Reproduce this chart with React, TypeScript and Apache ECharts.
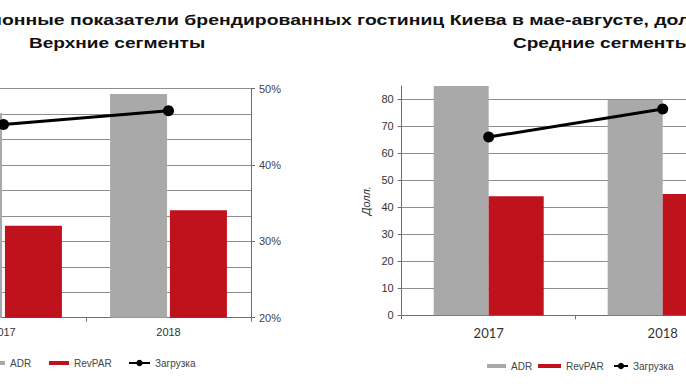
import React, { useEffect, useRef } from "react";
import * as echarts from "echarts";

const years = ["2017", "2018"];
const upperADR = [160.7, 175.8];
const upperRevPAR = [72.3, 84.4];
const upperOcc = [45.3, 47.1];
const midADR = [85.2, 79.8];
const midRevPAR = [44.1, 45.0];
const midOcc = [51.1, 56.0];

const titleText = "Операционные показатели брендированных гостиниц Киева в мае-августе, долл.";
const upperTitle = "Верхние сегменты";
const midTitle = "Средние сегменты";
const seriesNames = ["ADR", "RevPAR", "Загрузка"];

const GREY = "#A9A9A9";
const RED = "#BF121D";
const GRID = "#8E8E8E";
const AXIS = "#6E6E6E";
const OFF = 100; // chart canvas extends 100px beyond the visible left edge
const EXTRA_RIGHT = 120; // and beyond the visible right edge

export default function App() {
  const ref = useRef<HTMLDivElement>(null);
  useEffect(() => {
    if (!ref.current) return;
    const chart = echarts.init(ref.current, undefined, { renderer: "svg" });
    const legendText = { color: "#444", fontSize: 10, fontFamily: "Liberation Sans" };
    const mkLegend = (name: string, left: number, top: number, w: number, isLine: boolean) => ({
      data: [name], left: left + OFF, top, padding: 0,
      itemWidth: w, itemHeight: isLine ? 8 : 4,
      icon: isLine ? undefined : "rect",
      textStyle: legendText
    });
    chart.setOption({
      animation: false,
      backgroundColor: "#fff",
      textStyle: { fontFamily: "Liberation Sans" },
      graphic: [
        {
          type: "text", x: -82 + OFF, y: 20, scaleX: 1.293,
          style: { text: titleText, font: "bold 15px 'Liberation Sans'", fill: "#111", textAlign: "left", textVerticalAlign: "middle" }
        },
        {
          type: "text", x: 29 + OFF, y: 43, scaleX: 1.27,
          style: { text: upperTitle, font: "bold 15px 'Liberation Sans'", fill: "#111", textAlign: "left", textVerticalAlign: "middle" }
        },
        {
          type: "text", x: 513 + OFF, y: 43, scaleX: 1.27,
          style: { text: midTitle, font: "bold 15px 'Liberation Sans'", fill: "#111", textAlign: "left", textVerticalAlign: "middle" }
        }
      ],
      legend: [
        mkLegend(seriesNames[0], -18, 358, 23, false),
        mkLegend(seriesNames[1], 49, 358, 20, false),
        mkLegend(seriesNames[2], 128, 358, 21, true),
        mkLegend(seriesNames[0], 487, 361, 19, false),
        mkLegend(seriesNames[1], 538, 361, 23, false),
        mkLegend(seriesNames[2], 613, 361, 14, true)
      ],
      grid: [
        { left: -79 + OFF, top: 88.7, width: 330, height: 229 },
        { left: 401.7 + OFF, top: 86, width: 348, height: 229.3 }
      ],
      xAxis: [
        {
          type: "category", gridIndex: 0, data: years,
          axisLine: { lineStyle: { color: AXIS } },
          axisTick: { show: true, length: 4, lineStyle: { color: AXIS } },
          axisLabel: { color: "#333", fontSize: 11, margin: 9 }
        },
        {
          type: "category", gridIndex: 1, data: years,
          axisLine: { lineStyle: { color: AXIS } },
          axisTick: { show: true, length: 4, lineStyle: { color: AXIS } },
          axisLabel: { color: "#333", fontSize: 13, fontFamily: "Lato", margin: 11 }
        }
      ],
      yAxis: [
        {
          type: "value", gridIndex: 0, min: 0, max: 180, interval: 20, position: "left",
          axisLine: { show: true, lineStyle: { color: AXIS } },
          axisLabel: { show: false },
          splitLine: { show: true, lineStyle: { color: GRID, width: 1 } }
        },
        {
          type: "value", gridIndex: 0, min: 20, max: 50, interval: 10, position: "right",
          axisLine: { show: true, lineStyle: { color: AXIS } },
          axisTick: { show: true, length: 4, lineStyle: { color: AXIS } },
          axisLabel: { formatter: "{value}%", color: "#444", fontSize: 11, margin: 8 },
          splitLine: { show: false }
        },
        {
          type: "value", gridIndex: 1, min: 0, max: 85, interval: 10, position: "left",
          name: "Долл.", nameLocation: "middle", nameRotate: 90, nameGap: 30,
          nameTextStyle: { color: "#333", fontSize: 11, fontStyle: "italic" },
          axisLine: { show: true, lineStyle: { color: AXIS } },
          axisTick: { show: true, length: 4, lineStyle: { color: AXIS } },
          axisLabel: { color: "#333", fontSize: 11, margin: 8, showMaxLabel: false },
          splitLine: { show: true, showMaxLine: false, lineStyle: { color: GRID, width: 1 } }
        },
        {
          type: "value", gridIndex: 1, min: 20, max: 60, interval: 10, position: "right",
          show: false, splitLine: { show: false }
        }
      ],
      series: [
        {
          name: "ADR", type: "bar", xAxisIndex: 0, yAxisIndex: 0, data: upperADR,
          barWidth: 57, barGap: "5%", itemStyle: { color: GREY }
        },
        {
          name: "RevPAR", type: "bar", xAxisIndex: 0, yAxisIndex: 0, data: upperRevPAR,
          barWidth: 57, barGap: "5%", itemStyle: { color: RED }
        },
        {
          name: "Загрузка", type: "line", xAxisIndex: 0, yAxisIndex: 1, data: upperOcc,
          symbol: "circle", symbolSize: 11, itemStyle: { color: "#000" },
          lineStyle: { color: "#000", width: 3 }
        },
        {
          name: "ADR", type: "bar", xAxisIndex: 1, yAxisIndex: 2, data: midADR,
          barWidth: 55, barGap: "0%", itemStyle: { color: GREY }
        },
        {
          name: "RevPAR", type: "bar", xAxisIndex: 1, yAxisIndex: 2, data: midRevPAR,
          barWidth: 55, barGap: "0%", itemStyle: { color: RED }
        },
        {
          name: "Загрузка", type: "line", xAxisIndex: 1, yAxisIndex: 3, data: midOcc,
          symbol: "circle", symbolSize: 11, itemStyle: { color: "#000" },
          lineStyle: { color: "#000", width: 3 }
        }
      ]
    });
    return () => chart.dispose();
  }, []);
  return (
    <div style={{ position: "fixed", left: 0, top: 0, width: 686, height: 386, overflow: "hidden", background: "#fff" }}>
      <div ref={ref} style={{ position: "absolute", left: -OFF, top: 0, width: 686 + OFF + EXTRA_RIGHT, height: 386 }} />
    </div>
  );
}
